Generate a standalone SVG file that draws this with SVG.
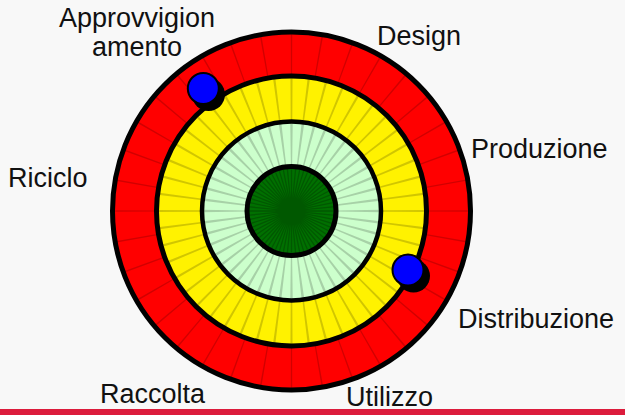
<svg xmlns="http://www.w3.org/2000/svg" xmlns:xlink="http://www.w3.org/1999/xlink" width="625" height="415" viewBox="0 0 625 415">
<style>
.lbl{font-family:"Liberation Sans",Arial,sans-serif;font-size:27px;fill:#111}
.spk{fill:none;stroke:#000;stroke-opacity:0.18}
.bd{fill:none;stroke:#000}
.dot{fill:#0000FF;stroke:#000;stroke-width:2}
.sh{fill:#000}
</style>
<rect x="0" y="0" width="625" height="415" fill="#F8F8F8"/>
<g id="wheel" transform="translate(291.5,211)">
  <g id="ring-red">
    <circle r="179" fill="#FF0000"/>
    <circle class="spk" r="157" stroke-width="44" pathLength="360" stroke-dasharray="0.5 9.5" stroke-dashoffset="0.25"/>
  </g>
  <g id="ring-yellow">
    <circle r="135" fill="#FFF200"/>
    <circle class="spk" r="112.25" stroke-width="45.5" pathLength="480" stroke-dasharray="1.3 8.7" stroke-dashoffset="0.65"/>
  </g>
  <g id="ring-lightgreen">
    <circle r="89.5" fill="#CCFFCC"/>
    <circle class="spk" r="67" stroke-width="45" pathLength="480" stroke-dasharray="2.2 7.8" stroke-dashoffset="1.1"/>
  </g>
  <g id="core">
    <circle r="44.5" fill="#007000"/>
    <path stroke="#004800" stroke-opacity="0.6" stroke-width="1.3" fill="none" d="M44 0L-44 0M43.79 4.31L-43.79 -4.31M43.15 8.58L-43.15 -8.58M42.11 12.77L-42.11 -12.77M40.65 16.84L-40.65 -16.84M38.8 20.74L-38.8 -20.74M36.58 24.45L-36.58 -24.45M34.01 27.91L-34.01 -27.91M31.11 31.11L-31.11 -31.11M27.91 34.01L-27.91 -34.01M24.45 36.58L-24.45 -36.58M20.74 38.8L-20.74 -38.8M16.84 40.65L-16.84 -40.65M12.77 42.11L-12.77 -42.11M8.58 43.15L-8.58 -43.15M4.31 43.79L-4.31 -43.79M0 44L0 -44M-4.31 43.79L4.31 -43.79M-8.58 43.15L8.58 -43.15M-12.77 42.11L12.77 -42.11M-16.84 40.65L16.84 -40.65M-20.74 38.8L20.74 -38.8M-24.45 36.58L24.45 -36.58M-27.91 34.01L27.91 -34.01M-31.11 31.11L31.11 -31.11M-34.01 27.91L34.01 -27.91M-36.58 24.45L36.58 -24.45M-38.8 20.74L38.8 -20.74M-40.65 16.84L40.65 -16.84M-42.11 12.77L42.11 -12.77M-43.15 8.58L43.15 -8.58M-43.79 4.31L43.79 -4.31"/>
  </g>
  <g id="borders">
    <circle class="bd" r="179" stroke-width="5"/>
    <circle class="bd" r="135" stroke-width="5"/>
    <circle class="bd" r="89.5" stroke-width="4.5"/>
    <circle class="bd" r="44.5" stroke-width="5"/>
  </g>
</g>
<g id="dot-top">
  <circle class="sh" cx="208.5" cy="94.5" r="16.5"/>
  <circle class="dot" cx="203.3" cy="88.5" r="15.5"/>
</g>
<g id="dot-bottom">
  <circle class="sh" cx="413.5" cy="276" r="16.5"/>
  <circle class="dot" cx="408" cy="270" r="15.5"/>
</g>
<g id="labels">
  <g id="lbl-approvvigionamento">
    <text class="lbl" x="137" y="27" text-anchor="middle">Approvvigion</text>
    <text class="lbl" x="137" y="56" text-anchor="middle">amento</text>
  </g>
  <g id="lbl-design"><text class="lbl" x="377" y="45">Design</text></g>
  <g id="lbl-produzione"><text class="lbl" x="471" y="158">Produzione</text></g>
  <g id="lbl-riciclo"><text class="lbl" x="8" y="187">Riciclo</text></g>
  <g id="lbl-distribuzione"><text class="lbl" x="458" y="328">Distribuzione</text></g>
  <g id="lbl-raccolta"><text class="lbl" x="100" y="403">Raccolta</text></g>
  <g id="lbl-utilizzo"><text class="lbl" x="346" y="406">Utilizzo</text></g>
</g>
<rect x="0" y="409" width="625" height="6" fill="#DC1C3C"/>
</svg>
